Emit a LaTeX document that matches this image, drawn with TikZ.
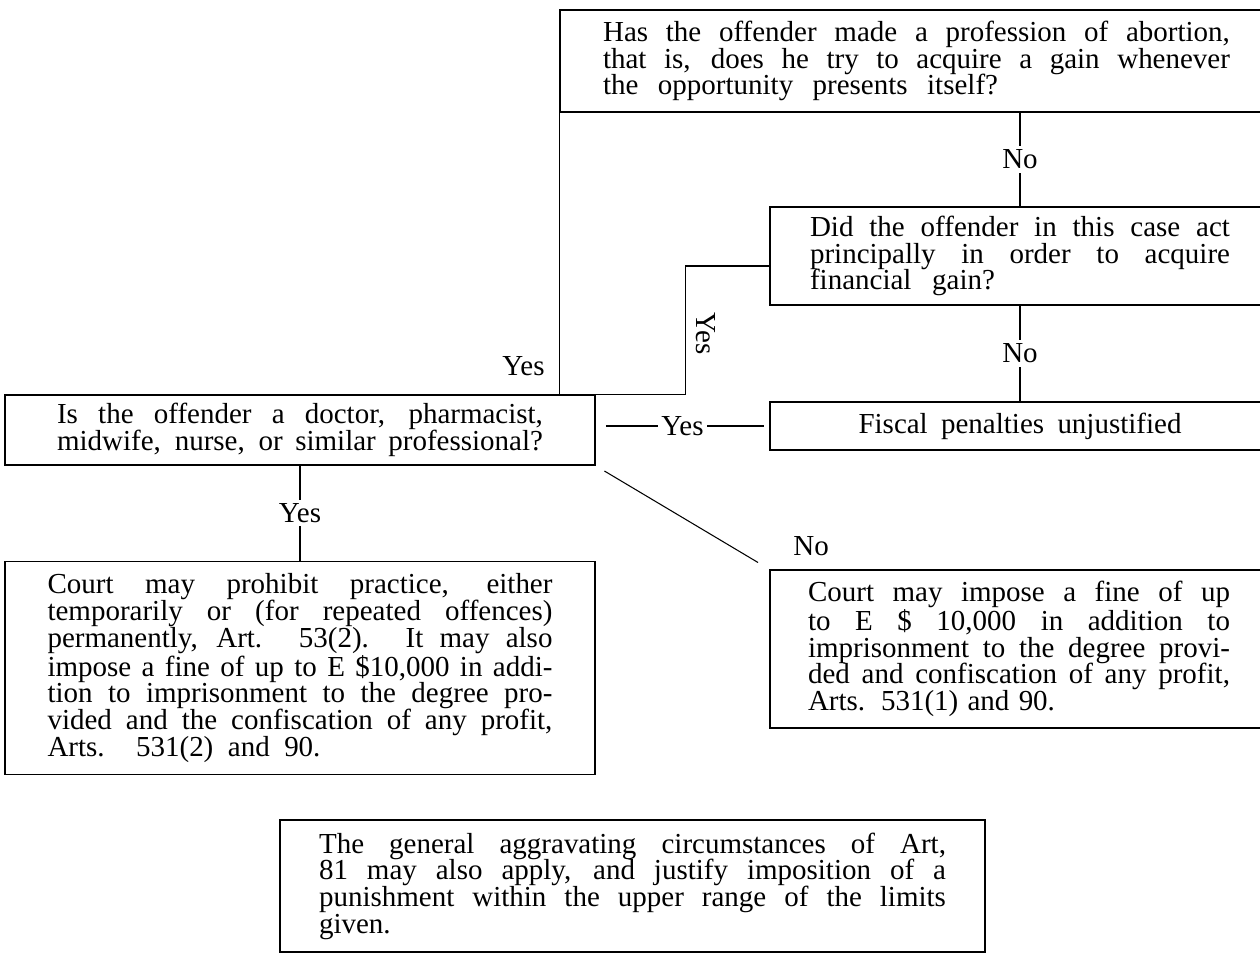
\documentclass[tikz,border=0pt]{standalone}
\usepackage{fontspec}
\setmainfont{Liberation Serif}
\usetikzlibrary{positioning, calc}
\newcommand{\wline}[2]{\makebox[#1][s]{\spaceskip=0pt\xspaceskip=0pt #2}}

\begin{document}
\begin{tikzpicture}[x=0.02cm, y=-0.02cm,
    box/.style={draw, line width=1pt, inner sep=0pt, align=left, font=\fontsize{16.5}{15.2}\selectfont},
    link/.style={line width=0.6pt},
    lbl/.style={font=\fontsize{16.5}{15.2}\selectfont, fill=white, inner sep=2pt}]
    \useasboundingbox (0,0) rectangle (1260,958);

    % Question boxes
    \node[box, minimum width=14.26cm, minimum height=2.04cm, text width=12.54cm] (prof) at (916.5,61) {%
        \wline{12.54cm}{Has the offender made a profession of abortion,}\\
        \wline{12.54cm}{that is, does he try to acquire a gain whenever}\\
        \wline{7.9cm}{the opportunity presents itself?}};
    \node[box, minimum width=10cm, minimum height=1.96cm, text width=8.4cm] (fin) at (1020,256) {%
        \wline{8.4cm}{Did the offender in this case act}\\
        \wline{8.4cm}{principally in order to acquire}\\
        \wline{3.7cm}{financial gain?}};
    \node[box, minimum width=10cm, minimum height=0.96cm] (fiscal) at (1020,426) {%
        \wline{6.46cm}{Fiscal penalties unjustified}};
    \node[box, minimum width=11.8cm, minimum height=1.4cm, text width=9.72cm] (doc) at (300,430) {%
        \wline{9.72cm}{Is the offender a doctor, pharmacist,}\\
        \wline{9.72cm}{midwife, nurse, or similar professional?}};

    % Outcome boxes
    \node[box, minimum width=11.8cm, minimum height=4.26cm, text width=10.1cm] (prohib) at (300,668) {%
        \wline{10.1cm}{Court may prohibit practice, either}\\
        \wline{10.1cm}{temporarily or (for repeated offences)}\\
        \wline{10.1cm}{permanently, Art. 53(2). It may also}\\
        \wline{10.1cm}{impose a fine of up to E \$10,000 in addi-}\\
        \wline{10.1cm}{tion to imprisonment to the degree pro-}\\
        \wline{10.1cm}{vided and the confiscation of any profit,}\\
        \wline{5.46cm}{Arts. 531(2) and 90.}};
    \node[box, minimum width=9.96cm, minimum height=3.16cm, text width=8.44cm] (fine) at (1019,649) {%
        \wline{8.44cm}{Court may impose a fine of up}\\
        \wline{8.44cm}{to E \$ 10,000 in addition to}\\
        \wline{8.44cm}{imprisonment to the degree provi-}\\
        \wline{8.44cm}{ded and confiscation of any profit,}\\
        \wline{4.94cm}{Arts. 531(1) and 90.}};
    \node[box, minimum width=14.1cm, minimum height=2.64cm, text width=12.54cm] (aggr) at (632.5,886) {%
        \wline{12.54cm}{The general aggravating circumstances of Art,}\\
        \wline{12.54cm}{81 may also apply, and justify imposition of a}\\
        \wline{12.54cm}{punishment within the upper range of the limits}\\
        given.};

    % Connectors
    \draw[link] (prof.south west) -- (prof.south west |- doc.north)
        node[pos=0.9, left=6pt, lbl, fill=none] {Yes};
    \draw[link] (fin.north |- prof.south) -- (fin.north)
        node[midway, lbl] {No};
    \draw[link] (fin.south) -- (fiscal.north)
        node[midway, lbl] {No};
    \draw[link] ([yshift=-0.2cm]fin.west) -- ++(-84,0) coordinate (finturn) |- (doc.north east);
    \node[lbl, fill=none, rotate=-90] (finyes) at ([shift={(21,68)}]finturn) {Yes};
    \draw[link, shorten <=0.2cm, shorten >=0.1cm] (fiscal.west -| doc.east) -- (fiscal.west)
        node[midway, lbl] {Yes};
    \draw[link] (doc.south) -- (prohib.north)
        node[midway, lbl] {Yes};
    \draw[link, shorten <=0.2cm, shorten >=0.26cm] (doc.south east) -- (fine.north west);
    \node[lbl, fill=none] (fineno) at ([shift={(42,-23)}]fine.north west) {No};
\end{tikzpicture}
\end{document}
